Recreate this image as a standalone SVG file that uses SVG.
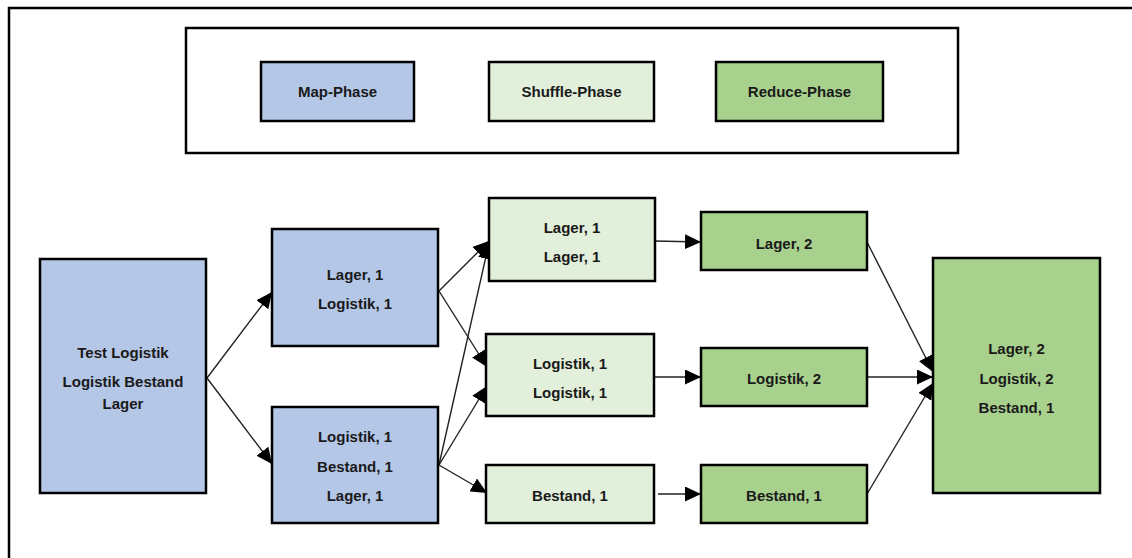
<svg xmlns="http://www.w3.org/2000/svg" width="1132" height="558" viewBox="0 0 1132 558">
<style>
.box{stroke:#000;stroke-width:2.5}
.map{fill:#b4c7e7}
.shuf{fill:#e2efda}
.red{fill:#a9d18e}
text{font-family:"Liberation Sans",Arial,sans-serif;font-weight:bold;font-size:15px;fill:#1a1a1a;text-anchor:middle;dominant-baseline:central}
.edge{stroke:#222;stroke-width:1.4;fill:none;marker-end:url(#arr)}
</style>
<defs>
<marker id="arr" markerUnits="userSpaceOnUse" markerWidth="17" markerHeight="15" refX="16" refY="7.5" orient="auto">
<path d="M0,0 L16,7.5 L0,15 z" fill="#000"/>
</marker>
</defs>
<rect width="1132" height="558" fill="#fff"/>
<path d="M9,558 V8 H1132" fill="none" stroke="#000" stroke-width="2.5"/>
<g id="legend">
<rect x="186" y="28" width="772" height="125" fill="#fff" class="box"/>
<g id="legend-map"><rect x="261" y="62" width="153" height="59" class="box map"/><text x="337.5" y="91.5">Map-Phase</text></g>
<g id="legend-shuffle"><rect x="489" y="62" width="165" height="59" class="box shuf"/><text x="571.5" y="91.5">Shuffle-Phase</text></g>
<g id="legend-reduce"><rect x="716" y="62" width="167" height="59" class="box red"/><text x="799.5" y="91.5">Reduce-Phase</text></g>
</g>
<g id="connectors">
<path class="edge" d="M207,378 L272,292"/>
<path class="edge" d="M207,378 L272,464"/>
<path class="edge" d="M439,291 L489,241"/>
<path class="edge" d="M439,291 L487,367"/>
<path class="edge" d="M439,465 L489,243"/>
<path class="edge" d="M439,465 L487,386"/>
<path class="edge" d="M439,465 L487,493"/>
<path class="edge" d="M655,241 L701,242"/>
<path class="edge" d="M655,377 L701,377"/>
<path class="edge" d="M658,494 L701,494"/>
<path class="edge" d="M867,242 L933,372"/>
<path class="edge" d="M867,377 L933,377"/>
<path class="edge" d="M867,494 L933,383"/>
</g>
<g id="input"><rect x="40" y="259" width="166" height="234" class="box map"/><text x="123" y="352">Test Logistik</text><text x="123" y="381">Logistik Bestand</text><text x="123" y="403">Lager</text></g>
<g id="map1"><rect x="272" y="229" width="166" height="117" class="box map"/><text x="355" y="274">Lager, 1</text><text x="355" y="303">Logistik, 1</text></g>
<g id="map2"><rect x="272" y="407" width="166" height="116" class="box map"/><text x="355" y="436">Logistik, 1</text><text x="355" y="466">Bestand, 1</text><text x="355" y="495">Lager, 1</text></g>
<g id="shuffle1"><rect x="489" y="198" width="166" height="83" class="box shuf"/><text x="572" y="227">Lager, 1</text><text x="572" y="256">Lager, 1</text></g>
<g id="shuffle2"><rect x="486" y="334" width="168" height="82" class="box shuf"/><text x="570" y="363">Logistik, 1</text><text x="570" y="392">Logistik, 1</text></g>
<g id="shuffle3"><rect x="486" y="465" width="168" height="58" class="box shuf"/><text x="570" y="495">Bestand, 1</text></g>
<g id="reduce1"><rect x="701" y="212" width="166" height="58" class="box red"/><text x="784" y="243">Lager, 2</text></g>
<g id="reduce2"><rect x="701" y="348" width="166" height="58" class="box red"/><text x="784" y="378">Logistik, 2</text></g>
<g id="reduce3"><rect x="701" y="465" width="166" height="58" class="box red"/><text x="784" y="495">Bestand, 1</text></g>
<g id="final"><rect x="933" y="258" width="167" height="235" class="box red"/><text x="1016.5" y="348">Lager, 2</text><text x="1016.5" y="378">Logistik, 2</text><text x="1016.5" y="407">Bestand, 1</text></g>
</svg>
